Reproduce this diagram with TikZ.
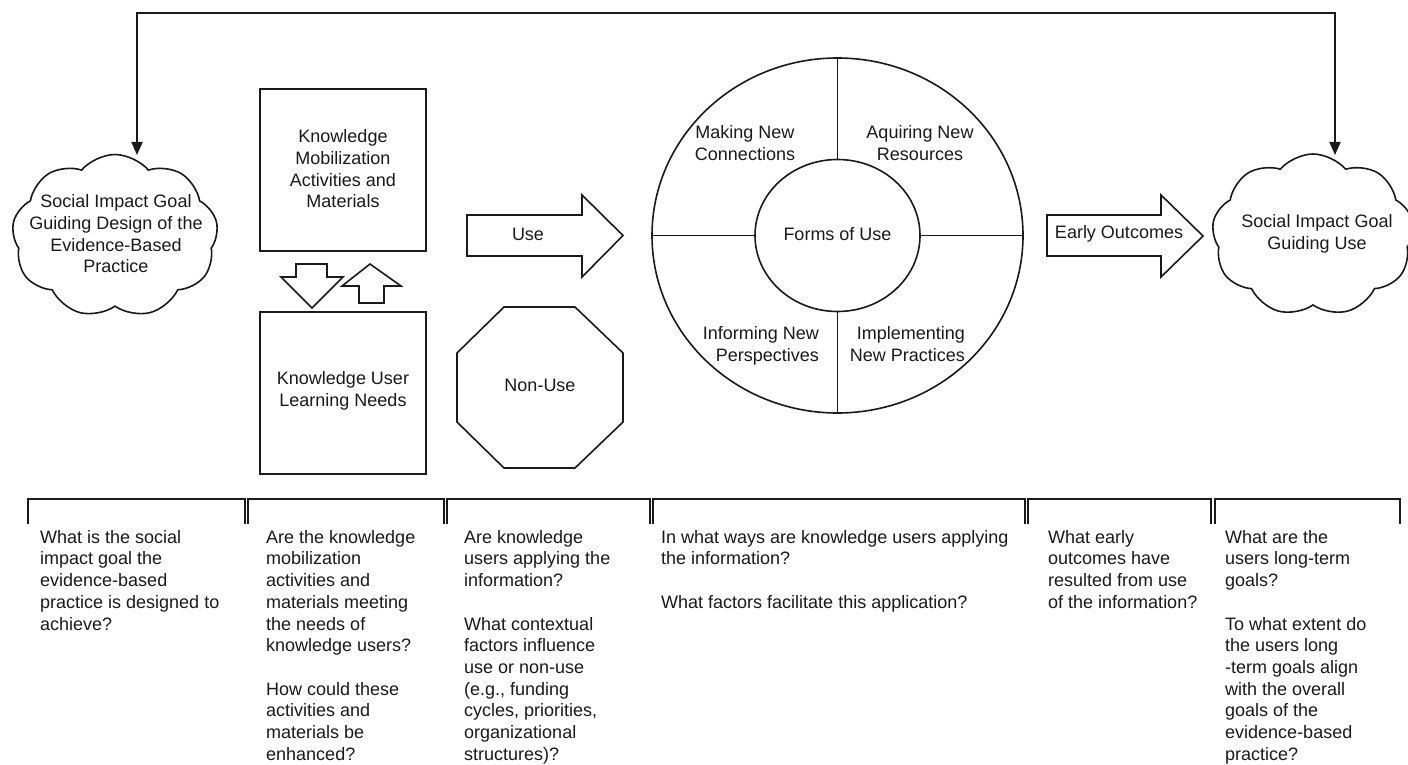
\documentclass[tikz,border=0pt]{standalone}
\usepackage{fontspec}
\setmainfont{Liberation Sans}
\usetikzlibrary{shapes.geometric,shapes.symbols,arrows.meta}
\definecolor{ink}{HTML}{1A1A1A}
\begin{document}
\begin{tikzpicture}[x=1pt,y=-1pt,
  shp/.style={draw=ink,line width=1.6pt,line join=miter},
  thin/.style={draw=ink,line width=1.4pt},
  lbl/.style={font=\fontsize{18}{21.7}\selectfont,align=center,inner sep=0pt,text=ink},
  qtext/.style={font=\fontsize{18}{21.7}\selectfont,align=left,inner sep=0pt,anchor=north west,text=ink},
  cloudbox/.style={draw=ink,line width=1.6pt,cloud,cloud puffs=9,cloud puff arc=100,cloud ignores aspect,inner sep=0pt},
  brk/.style={draw=ink,line width=1.8pt},
  tip/.style={-{Triangle[length=13pt,width=11pt]}}
]
\useasboundingbox (0,0) rectangle (1408,765);
\fill[white] (0,0) rectangle (1408,765);

% clouds
\node[cloudbox,minimum width=206pt,minimum height=163pt] (lc) at (115,236) {};
\node[lbl] (lct) at (116,234) {Social Impact Goal\\Guiding Design of the\\Evidence-Based\\Practice};
\node[cloudbox,minimum width=202pt,minimum height=162pt] (rc) at (1313,235) {};
\node[lbl] (rct) at (1317,234) {Social Impact Goal\\Guiding Use};

% feedback connector
\coordinate (lcin) at (137,155);
\coordinate (rcin) at (1335,155);
\coordinate (topc) at (700,13);
\draw[ink,line width=1.8pt,tip] (topc) -| (lcin);
\draw[ink,line width=1.8pt,tip] (topc) -| (rcin);

% knowledge boxes
\node[shp,minimum width=166pt,minimum height=162pt,inner sep=0pt] (km) at (343,170) {};
\node[lbl] (kmt) at (343,169) {Knowledge\\Mobilization\\Activities and\\Materials};
\node[shp,minimum width=166pt,minimum height=162pt,inner sep=0pt] (ku) at (343,393) {};
\node[lbl] (kut) at (343,391) {Knowledge User\\Learning Needs};

% small arrows
\draw[shp] (296,264) -- (327,264) -- (327,277) -- (343,277) -- (312,308) -- (281,277) -- (296,277) -- cycle;
\draw[shp] (370,264) -- (401,286) -- (384,286) -- (384,303) -- (359,303) -- (359,286) -- (342,286) -- cycle;

% Use arrow
\draw[shp] (467,215) -- (582,215) -- (582,195) -- (623,235.5) -- (582,277) -- (582,256) -- (467,256) -- cycle;
\node[lbl] (use) at (528,234) {Use};

% Non-use octagon
\draw[shp] (504,307) -- (575,307) -- (623,353) -- (623,422) -- (575,468) -- (504,468) -- (457,422) -- (457,353) -- cycle;
\node[lbl] (nonuse) at (540,385) {Non-Use};

% forms of use
\node[ellipse,draw=ink,line width=1.6pt,minimum width=371pt,minimum height=355pt,inner sep=0pt] (oc) at (837.5,235.5) {};
\node[ellipse,draw=ink,line width=1.6pt,minimum width=165pt,minimum height=152pt,inner sep=0pt] (ic) at (837.5,235.5) {};
\draw[thin] (oc.north) -- (ic.north);
\draw[thin] (ic.south) -- (oc.south);
\draw[thin] (oc.west) -- (ic.west);
\draw[thin] (ic.east) -- (oc.east);
\node[lbl] (fu) at (837.5,234) {Forms of Use};
\node[lbl,align=center] (q1) at (745,143) {Making New\\Connections};
\node[lbl,align=center] (q2) at (920,143) {Aquiring New\\Resources};
\node[lbl,align=right,anchor=east] (q3) at (819,346) {Informing New\\Perspectives};
\node[lbl,align=right,anchor=east] (q4) at (965,344) {Implementing\\New Practices};

% Early outcomes arrow
\draw[shp] (1047,215) -- (1161,215) -- (1161,195) -- (1203,236) -- (1161,277) -- (1161,256) -- (1047,256) -- cycle;
\node[lbl] (eo) at (1119,234) {Early Outcomes};

% brackets
\draw[brk] (28,524) -- (28,499) -- (245,499) -- (245,524);
\draw[brk] (248,524) -- (248,499) -- (444,499) -- (444,524);
\draw[brk] (447,524) -- (447,499) -- (650,499) -- (650,524);
\draw[brk] (653,524) -- (653,499) -- (1025,499) -- (1025,524);
\draw[brk] (1028,524) -- (1028,499) -- (1211,499) -- (1211,524);
\draw[brk] (1215,524) -- (1215,499) -- (1400,499) -- (1400,524);

% questions
\node[qtext] (c1) at (40,530) {What is the social\\impact goal the\\evidence-based\\practice is designed to\\achieve?};
\node[qtext] (c2) at (266,530) {Are the knowledge\\mobilization\\activities and\\materials meeting\\the needs of\\knowledge users?\\[21.7pt]How could these\\activities and\\materials be\\enhanced?};
\node[qtext] (c3) at (464,530) {Are knowledge\\users applying the\\information?\\[21.7pt]What contextual\\factors influence\\use or non-use\\(e.g., funding\\cycles, priorities,\\organizational\\structures)?};
\node[qtext] (c4) at (661,530) {In what ways are knowledge users applying\\the information?\\[21.7pt]What factors facilitate this application?};
\node[qtext] (c5) at (1048,530) {What early\\outcomes have\\resulted from use\\of the information?};
\node[qtext] (c6) at (1225,530) {What are the\\users long-term\\goals?\\[21.7pt]To what extent do\\the users long\\-term goals align\\with the overall\\goals of the\\evidence-based\\practice?};
\end{tikzpicture}
\end{document}
